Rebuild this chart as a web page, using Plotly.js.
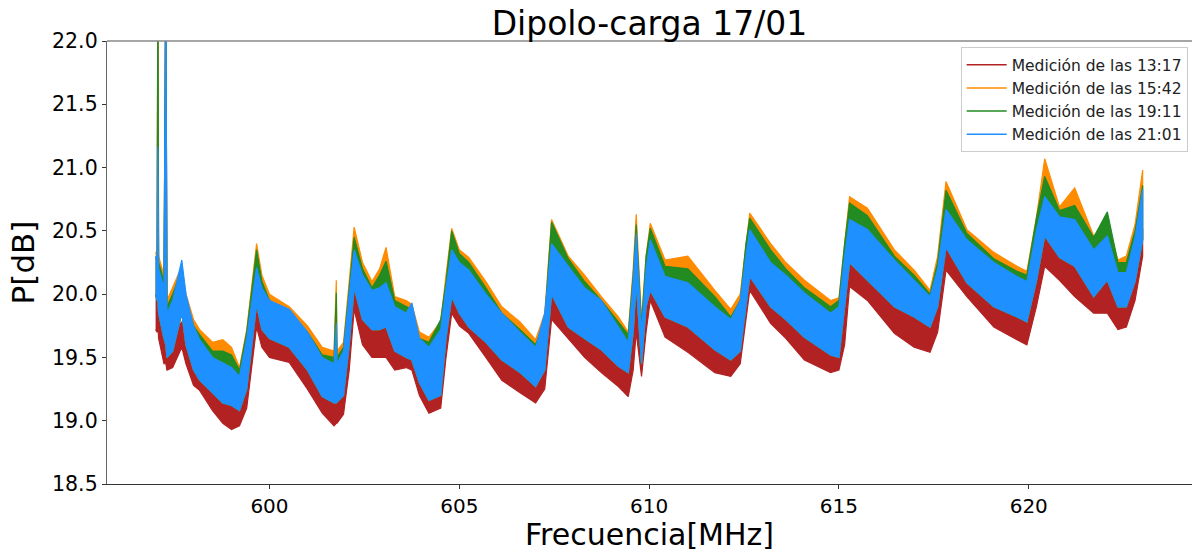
<!DOCTYPE html>
<html>
<head>
<meta charset="utf-8">
<script src="https://cdn.plot.ly/plotly-3.0.1.min.js"></script>
<style>
  html, body { margin: 0; padding: 0; background: #fff; }
  #chart { width: 1194px; height: 551px; }
</style>
</head>
<body>
<div id="chart"></div>
<script>
// Frequency samples (MHz)
const freq = [597.00,597.04,597.06,597.08,597.22,597.27,597.30,597.45,597.69,597.80,
  598.00,598.16,598.50,598.77,599.00,599.21,599.40,599.66,599.80,600.00,
  600.52,601.00,601.39,601.70,601.76,601.78,601.95,602.10,602.23,602.45,
  602.70,602.90,603.07,603.30,603.60,603.75,603.95,604.20,604.51,604.65,
  604.80,605.00,605.25,605.70,606.12,606.60,607.01,607.25,607.43,607.87,
  608.30,608.74,609.19,609.45,609.58,609.66,609.80,609.92,610.03,610.42,
  611.02,611.73,612.15,612.40,612.55,612.65,613.20,613.60,614.09,614.78,
  615.00,615.15,615.28,615.75,616.46,616.98,617.40,617.60,617.82,618.37,
  619.08,619.69,619.95,620.20,620.42,620.81,621.21,621.71,622.07,622.35,
  622.57,622.80,623.00];

// 21:01 (blue) upper / lower envelope of the noisy trace
const blueHi = [20.30,20.25,21.16,20.20,20.05,22.60,19.85,19.95,20.27,20.00,
  19.75,19.64,19.50,19.46,19.42,19.35,19.65,20.21,20.05,19.95,
  19.88,19.70,19.50,19.45,19.77,19.45,19.55,20.00,20.35,20.15,
  20.03,20.05,20.09,19.90,19.85,19.93,19.65,19.58,19.72,20.05,
  20.35,20.25,20.19,20.00,19.85,19.70,19.58,19.85,20.40,20.22,
  20.05,19.95,19.74,19.62,20.10,20.48,19.70,20.20,20.43,20.14,
  20.09,19.90,19.80,19.95,20.30,20.51,20.25,20.15,20.01,19.85,
  19.90,20.30,20.59,20.51,20.27,20.11,19.98,20.20,20.67,20.43,
  20.25,20.14,20.10,20.50,20.77,20.61,20.59,20.35,20.46,20.17,
  20.17,20.45,20.83];
const blueLo = [20.00,19.95,19.95,19.85,19.65,19.60,19.50,19.55,19.85,19.60,
  19.40,19.32,19.22,19.14,19.12,19.08,19.25,19.92,19.72,19.65,
  19.58,19.40,19.19,19.14,19.14,19.14,19.20,19.60,20.05,19.80,
  19.72,19.72,19.74,19.55,19.50,19.48,19.30,19.16,19.20,19.65,
  19.98,19.85,19.74,19.62,19.48,19.38,19.27,19.40,20.00,19.74,
  19.65,19.56,19.43,19.38,19.70,20.10,19.45,19.90,20.03,19.82,
  19.74,19.56,19.48,19.55,19.90,20.14,19.90,19.80,19.66,19.52,
  19.50,19.90,20.25,20.11,19.90,19.82,19.74,19.90,20.37,20.09,
  19.90,19.82,19.78,20.10,20.46,20.29,20.22,19.98,20.11,19.90,
  19.90,20.10,20.43];

// 13:17 (red) upper / lower envelope
const redHi = [20.00,19.95,22.60,19.90,19.75,22.60,19.60,19.70,19.78,19.70,
  19.55,19.45,19.35,19.25,19.22,19.15,19.45,19.98,19.85,19.75,
  19.65,19.50,19.30,19.25,19.25,19.25,19.40,19.80,20.14,19.95,
  19.80,19.80,19.77,19.65,19.60,19.55,19.40,19.30,19.45,19.95,
  20.14,20.00,19.95,19.75,19.60,19.45,19.35,19.55,20.14,19.95,
  19.80,19.70,19.55,19.45,19.80,20.20,19.60,20.00,20.11,19.95,
  19.80,19.65,19.55,19.75,20.10,20.33,20.00,19.90,19.75,19.60,
  19.62,20.10,20.35,20.20,20.00,19.85,19.78,20.00,20.46,20.15,
  20.00,19.90,19.88,20.30,20.56,20.35,20.30,20.10,20.15,19.95,
  19.95,20.20,20.52];
const redLo = [19.72,19.70,19.75,19.65,19.45,19.45,19.40,19.42,19.58,19.45,
  19.28,19.24,19.08,18.98,18.93,18.96,19.10,19.74,19.58,19.50,
  19.46,19.25,19.06,18.96,18.98,18.98,19.05,19.40,19.88,19.60,
  19.50,19.50,19.50,19.40,19.42,19.40,19.20,19.06,19.10,19.50,
  19.85,19.75,19.69,19.50,19.32,19.22,19.14,19.25,19.80,19.65,
  19.50,19.38,19.27,19.19,19.40,19.70,19.35,19.70,19.95,19.66,
  19.54,19.38,19.35,19.45,19.80,20.03,19.77,19.65,19.48,19.38,
  19.40,19.60,20.06,19.95,19.69,19.58,19.54,19.70,20.19,19.98,
  19.74,19.64,19.60,19.90,20.22,20.11,19.98,19.85,19.85,19.72,
  19.74,19.95,20.30];

// 15:42 (orange) upper envelope; its lower edge lies under the blue band
const orangeHi = [20.32,20.35,22.60,20.30,20.15,22.60,19.95,20.05,20.22,20.00,
  19.80,19.72,19.62,19.64,19.58,19.42,19.72,20.40,20.15,20.00,
  19.90,19.75,19.58,19.55,20.11,19.55,19.62,20.10,20.53,20.25,
  20.10,20.20,20.37,19.98,19.95,19.92,19.70,19.66,19.78,20.15,
  20.52,20.35,20.29,20.10,19.90,19.78,19.64,19.85,20.59,20.30,
  20.15,19.98,19.82,19.70,20.20,20.63,19.80,20.30,20.56,20.27,
  20.30,20.03,19.88,20.00,20.40,20.64,20.40,20.25,20.11,19.95,
  19.97,20.40,20.77,20.68,20.35,20.19,20.03,20.30,20.89,20.51,
  20.33,20.22,20.18,20.60,21.07,20.69,20.84,20.46,20.55,20.27,
  20.30,20.55,20.98];

// 19:11 (green) upper envelope; its lower edge lies under the blue band
const greenHi = [20.28,20.30,22.60,20.25,20.10,22.60,19.90,20.00,20.20,19.95,
  19.75,19.68,19.55,19.55,19.52,19.40,19.70,20.35,20.10,19.95,
  19.85,19.70,19.52,19.50,20.01,19.50,19.58,20.05,20.45,20.20,
  20.05,20.15,20.26,19.95,19.90,19.88,19.65,19.62,19.80,20.10,
  20.50,20.32,20.25,20.05,19.85,19.72,19.60,19.80,20.57,20.28,
  20.10,19.95,19.78,19.68,20.15,20.55,19.75,20.30,20.52,20.22,
  20.20,19.98,19.82,19.95,20.40,20.60,20.35,20.20,20.05,19.90,
  19.95,20.40,20.72,20.62,20.30,20.15,20.00,20.25,20.82,20.48,
  20.28,20.18,20.15,20.60,20.93,20.66,20.70,20.45,20.65,20.25,
  20.25,20.50,20.86];

const seriesNames = ['Medición de las 13:17','Medición de las 15:42','Medición de las 19:11','Medición de las 21:01'];
const seriesColors = ['#b22222','#ff8c00','#228b22','#1e90ff'];
const xTicks = [600,605,610,615,620];
const yTicks = [18.5,19.0,19.5,20.0,20.5,21.0,21.5,22.0];
const yTickText = ['18.5','19.0','19.5','20.0','20.5','21.0','21.5','22.0'];
const xTitle = 'Frecuencia[MHz]';

function band(hi, lo, color) {
  const xr = freq.slice().reverse();
  return {
    x: freq.concat(xr),
    y: hi.concat(lo.slice().reverse()),
    type: 'scatter', mode: 'lines', fill: 'toself',
    fillcolor: color, line: {color: color, width: 1.2},
    showlegend: false, hoverinfo: 'skip'
  };
}

const traces = [
  band(redHi, redLo, seriesColors[0]),
  band(orangeHi, blueLo, seriesColors[1]),
  band(greenHi, blueLo, seriesColors[2]),
  band(blueHi, blueLo, seriesColors[3])
];
seriesNames.forEach((n, i) => {
  traces.push({x: [null], y: [null], type: 'scatter', mode: 'lines', name: n,
    legendgroup: 'g' + i, line: {color: seriesColors[i], width: 1.5}});
});

const font = 'DejaVu Sans, sans-serif';
const layout = {
  width: 1194, height: 551,
  margin: {l: 107, r: 2, t: 41, b: 67},
  paper_bgcolor: '#fff', plot_bgcolor: '#fff',
  font: {family: font, color: '#000'},
  title: {text: 'Dipolo-carga 17/01', font: {family: font, size: 33, color: '#000'},
    x: 0.5, xref: 'paper', y: 1 - 23/551, yref: 'container', yanchor: 'middle'},
  xaxis: {range: [595.72, 624.3], tickvals: xTicks, ticktext: xTicks.map(String),
    showgrid: false, zeroline: false, showline: true, linecolor: '#333', linewidth: 1.2,
    ticks: 'outside', ticklen: 4, tickcolor: '#333', tickfont: {family: font, size: 20, color: '#000'},
    automargin: false},
  yaxis: {range: [18.5, 22.0], tickvals: yTicks, ticktext: yTickText,
    showgrid: false, zeroline: false, showline: true, linecolor: '#666', linewidth: 1.2,
    ticks: 'outside', ticklen: 4, tickcolor: '#333', tickfont: {family: font, size: 20.5, color: '#000'},
    title: {text: 'P[dB]', font: {family: font, size: 31, color: '#000'}, standoff: 8},
    automargin: false},
  annotations: [{text: xTitle, xref: 'paper', yref: 'paper', x: 0.5, y: -50/443,
    xanchor: 'center', yanchor: 'middle', showarrow: false,
    font: {family: font, size: 30, color: '#000'}}],
  shapes: [{type: 'line', xref: 'paper', yref: 'paper', x0: 0, x1: 1, y0: 1, y1: 1,
    line: {color: '#888', width: 1.5}}],
  legend: {x: 0.996, xanchor: 'right', y: 0.986, yanchor: 'top',
    bgcolor: 'rgba(255,255,255,0.85)', bordercolor: '#ccc', borderwidth: 1,
    font: {family: font, size: 15.5, color: '#222'}, traceorder: 'grouped', tracegroupgap: 0,
    itemwidth: 40}
};

Plotly.newPlot('chart', traces, layout, {staticPlot: true, displayModeBar: false});
</script>
</body>
</html>
